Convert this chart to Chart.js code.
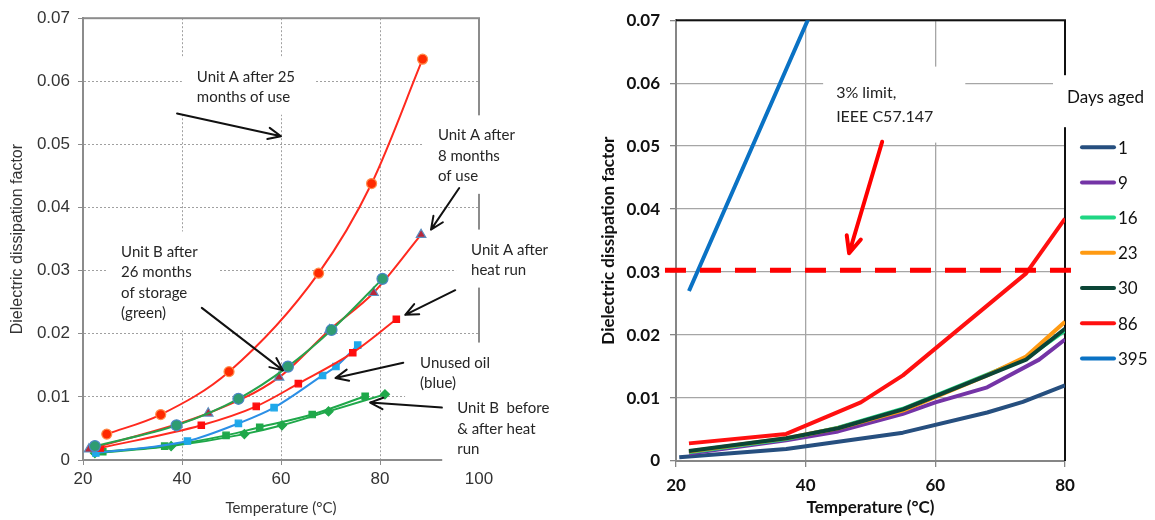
<!DOCTYPE html>
<html>
<head>
<meta charset="utf-8">
<title>Dielectric dissipation factor vs temperature</title>
<script src="https://cdn.jsdelivr.net/npm/chart.js@4.4.1/dist/chart.umd.min.js"></script>
<style>
    html, body { margin: 0; padding: 0; background: #fff; }
    #wrap { position: relative; width: 1155px; height: 520px; }
    .panel { position: absolute; top: 0; height: 520px; }
    #leftPanel { left: 0; width: 580px; }
    #rightPanel { left: 580px; width: 575px; }
</style>
</head>
<body>
<div id="wrap">
    <div class="panel" id="leftPanel"><canvas id="leftChart" width="580" height="520"></canvas></div>
    <div class="panel" id="rightPanel"><canvas id="rightChart" width="575" height="520"></canvas></div>
</div>
<script>
// ============================================================================
// LEFT PANEL DATA - field units
// ============================================================================

const leftTempTicks = [20, 40, 60, 80, 100];
const leftDfTicks = [0, 0.01, 0.02, 0.03, 0.04, 0.05, 0.06, 0.07];

const unitA25Temp = [24.8, 35.7, 49.5, 67.6, 78.3, 88.6];
const unitA25Df   = [0.0041, 0.0072, 0.0140, 0.0296, 0.0438, 0.0635];

const unitA8Temp = [21.2, 45.3, 59.6, 69.8, 78.7, 88.3];
const unitA8Df   = [0.0017, 0.0074, 0.0131, 0.0206, 0.0265, 0.0357];

const unitB26Temp = [22.4, 38.9, 51.4, 61.4, 70.2, 80.5];
const unitB26Df   = [0.0022, 0.0055, 0.0097, 0.0148, 0.0206, 0.0287];

const unitAHeatTemp = [23.5, 43.9, 55.0, 63.5, 74.5, 83.3];
const unitAHeatDf   = [0.0019, 0.0055, 0.0085, 0.0121, 0.0170, 0.0223];

const unusedTemp = [22.6, 41.1, 51.4, 58.6, 68.4, 71.1, 75.5];
const unusedDf   = [0.0011, 0.0030, 0.0058, 0.0083, 0.0134, 0.0148, 0.0182];

const unitBBeforeTemp = [24.0, 36.5, 48.9, 55.7, 66.3, 77.0];
const unitBBeforeDf   = [0.0013, 0.0022, 0.0039, 0.0052, 0.0072, 0.0101];

const unitBAfterTemp = [22.4, 37.8, 52.6, 60.2, 69.6, 81.0];
const unitBAfterDf   = [0.0011, 0.0022, 0.0041, 0.0055, 0.0077, 0.0104];

// ============================================================================
// RIGHT PANEL DATA - aged samples
// ============================================================================

const rightTempTicks = [20, 40, 60, 80];
const rightDfTicks = [0, 0.01, 0.02, 0.03, 0.04, 0.05, 0.06, 0.07];
const daysAged = ['1', '9', '16', '23', '30', '86', '395'];
const dayColors = ['#264f7f', '#7434a6', '#1fd683', '#ff9a12', '#0b4536', '#ff1010', '#0a72c4'];

const day1Temp = [20.5, 37, 55, 68, 73.5, 80];
const day1Df   = [0.0006, 0.0019, 0.0045, 0.0077, 0.0094, 0.0120];
const day9Temp = [22, 37, 45, 55, 60, 68, 76, 80];
const day9Df   = [0.0012, 0.0033, 0.0047, 0.0075, 0.0093, 0.0117, 0.0161, 0.0193];
const day16Temp = [22, 37, 45, 55, 68, 74, 80];
const day16Df   = [0.0014, 0.0035, 0.0053, 0.0083, 0.0137, 0.0163, 0.0207];
const day23Temp = [22, 37, 45, 55, 68, 74, 80];
const day23Df   = [0.0015, 0.0036, 0.0052, 0.0080, 0.0136, 0.0166, 0.0221];
const day30Temp = [22, 37, 45, 55, 68, 74, 80];
const day30Df   = [0.0016, 0.0036, 0.0052, 0.0082, 0.0136, 0.0161, 0.0210];
const day86Temp = [22, 37, 48.5, 55, 74, 80];
const day86Df   = [0.0028, 0.0043, 0.0093, 0.0136, 0.0298, 0.0385];
const day395Temp = [22, 37, 45];
const day395Df   = [0.0270, 0.0622, 0.0810];

const limitTemp = [18.3, 82.3];
const limitDf   = [0.0303, 0.0303];

// ============================================================================
// NOTES AND ARROWS (anchored in data units)
// ============================================================================

const leftNotes = [
    { lines: ['Unit A after 25', 'months of use'], x: 43.0, y: 0.0607 },
    { lines: ['Unit A after', '8 months', 'of use'], x: 91.7, y: 0.0514 },
    { lines: ['Unit A after', 'heat run'], x: 98.4, y: 0.0333 },
    { lines: ['Unit B after', '26 months', 'of storage', '(green)'], x: 27.7, y: 0.0330 },
    { lines: ['Unused oil', '(blue)'], x: 88.1, y: 0.0154 },
    { lines: ['Unit B  before', '& after heat', 'run'], x: 95.6, y: 0.0082 }
];
const leftArrows = [
    { from: [39.0, 0.0549], to: [60.0, 0.0513] },
    { from: [96.0, 0.0431], to: [90.3, 0.0365] },
    { from: [95.2, 0.0269], to: [85.1, 0.0230] },
    { from: [44.0, 0.0241], to: [60.4, 0.0142] },
    { from: [84.7, 0.0154], to: [71.0, 0.0130] },
    { from: [92.5, 0.0083], to: [78.0, 0.0091] }
];
const rightNotes = [
    { lines: ['3% limit,', 'IEEE C57.147'], x: 44.7, y: 0.0585 }
];
const rightArrows = [
    { from: [51.8, 0.0507], to: [46.7, 0.0330] }
];

// ============================================================================
// HELPERS
// ============================================================================

function toPoints(xs, ys) {
    return xs.map((x, i) => ({ x: x, y: ys[i] }));
}

function dfLabel(v) {
    return v === 0 ? '0' : v.toFixed(2);
}

function pixel(chart, x, y) {
    return [chart.scales.x.getPixelForValue(x), chart.scales.y.getPixelForValue(y)];
}

function noteBox(chart, note, font, lineHeight, pad) {
    const ctx = chart.ctx;
    ctx.font = font;
    const [px, py] = pixel(chart, note.x, note.y);
    const w = Math.max(...note.lines.map(t => ctx.measureText(t).width));
    return {
        x: px - pad.l,
        y: py - lineHeight / 2 - pad.t,
        w: w + pad.l + pad.r,
        h: note.lines.length * lineHeight + pad.t + pad.b
    };
}

function drawArrow(ctx, x1, y1, x2, y2, color, width, head) {
    const ang = Math.atan2(y2 - y1, x2 - x1);
    ctx.save();
    ctx.strokeStyle = color;
    ctx.lineWidth = width;
    ctx.lineCap = 'round';
    ctx.lineJoin = 'round';
    ctx.beginPath();
    ctx.moveTo(x1, y1);
    ctx.lineTo(x2, y2);
    ctx.moveTo(x2 - head * Math.cos(ang - 0.42), y2 - head * Math.sin(ang - 0.42));
    ctx.lineTo(x2, y2);
    ctx.lineTo(x2 - head * Math.cos(ang + 0.42), y2 - head * Math.sin(ang + 0.42));
    ctx.stroke();
    ctx.restore();
}

function drawNotes(chart, notes, font, lineHeight, color) {
    const ctx = chart.ctx;
    ctx.save();
    ctx.font = font;
    ctx.fillStyle = color;
    ctx.textAlign = 'left';
    ctx.textBaseline = 'middle';
    notes.forEach(n => {
        const [px, py] = pixel(chart, n.x, n.y);
        n.lines.forEach((t, i) => ctx.fillText(t, px, py + i * lineHeight));
    });
    ctx.restore();
}

// ============================================================================
// LEFT CHART
// ============================================================================

const LEFT_NOTE_FONT = '15px Lato';
const LEFT_NOTE_LH = 20.5;
const LEFT_NOTE_PAD = { l: 15, r: 21, t: 10, b: 7 };

const leftDecor = {
    id: 'leftDecor',
    beforeDatasetsDraw(chart) {
        const { ctx, chartArea: a } = chart;
        ctx.save();
        ctx.strokeStyle = '#8c8c8c';
        ctx.lineWidth = 2;
        ctx.strokeRect(a.left, a.top, a.right - a.left, a.bottom - a.top);
        ctx.fillStyle = '#fff';
        leftNotes.forEach(n => {
            const b = noteBox(chart, n, LEFT_NOTE_FONT, LEFT_NOTE_LH, LEFT_NOTE_PAD);
            ctx.fillRect(b.x, b.y, b.w, b.h);
        });
        ctx.restore();
    },
    afterDraw(chart) {
        drawNotes(chart, leftNotes, LEFT_NOTE_FONT, LEFT_NOTE_LH, '#262626');
        leftArrows.forEach(ar => {
            const [x1, y1] = pixel(chart, ar.from[0], ar.from[1]);
            const [x2, y2] = pixel(chart, ar.to[0], ar.to[1]);
            drawArrow(chart.ctx, x1, y1, x2, y2, '#111', 2, 14);
        });
    }
};

function leftSeries(label, xs, ys, color, style, fill, edge, radius) {
    return {
        label: label,
        data: toPoints(xs, ys),
        borderColor: color,
        borderWidth: 2,
        pointStyle: style,
        pointRadius: radius,
        pointBackgroundColor: fill,
        pointBorderColor: edge,
        pointBorderWidth: 1.2,
        cubicInterpolationMode: 'monotone',
        fill: false
    };
}

new Chart(document.getElementById('leftChart'), {
    type: 'line',
    data: {
        datasets: [
            leftSeries('Unit A after 25 months of use', unitA25Temp, unitA25Df, '#ff2a1f', 'circle', '#ff2a00', '#ff8c4a', 5),
            leftSeries('Unit B after 26 months of storage', unitB26Temp, unitB26Df, '#27a24c', 'circle', '#2f9c72', '#4b86c6', 5.5),
            leftSeries('Unit A after 8 months of use', unitA8Temp, unitA8Df, '#ff2a1f', 'triangle', '#b8283c', '#5b8fc0', 5.5),
            leftSeries('Unit A after heat run', unitAHeatTemp, unitAHeatDf, '#ff2a1f', 'rect', '#ff0d0d', '#ff0d0d', 4.5),
            leftSeries('Unused oil', unusedTemp, unusedDf, '#2b8fe6', 'rect', '#1ea8ea', '#1ea8ea', 4.5),
            leftSeries('Unit B before heat run', unitBBeforeTemp, unitBBeforeDf, '#1fa84a', 'rect', '#1fa84a', '#1fa84a', 4.5),
            leftSeries('Unit B after heat run', unitBAfterTemp, unitBAfterDf, '#1fa84a', 'rectRot', '#1fa84a', '#1fa84a', 4.5)
        ]
    },
    options: {
        responsive: false,
        animation: false,
        layout: { padding: { top: 15, right: 101, bottom: 0, left: 0 } },
        plugins: {
            legend: { display: false },
            tooltip: { enabled: false }
        },
        scales: {
            x: {
                type: 'linear',
                min: 20,
                max: 100,
                afterBuildTicks: s => { s.ticks = leftTempTicks.map(v => ({ value: v })); },
                afterFit: s => { s.height = 60; },
                grid: { color: '#a0a0a0', lineWidth: 1, tickLength: 5, tickColor: '#8c8c8c' },
                border: { color: '#8c8c8c', width: 2, dash: [2, 2] },
                ticks: { color: '#333', padding: 4, font: { family: 'Liberation Sans', size: 17 } },
                title: {
                    display: true,
                    text: 'Temperature (°C)',
                    color: '#333',
                    padding: { top: 0, bottom: 3 },
                    font: { family: 'Lato', size: 15 }
                }
            },
            y: {
                type: 'linear',
                min: 0,
                max: 0.07,
                afterBuildTicks: s => { s.ticks = leftDfTicks.map(v => ({ value: v })); },
                afterFit: s => { s.width = 83; },
                grid: { color: '#a0a0a0', lineWidth: 1, tickLength: 5, tickColor: '#8c8c8c' },
                border: { color: '#8c8c8c', width: 2, dash: [2, 2] },
                ticks: { color: '#333', padding: 8, callback: dfLabel, font: { family: 'Liberation Sans', size: 17 } },
                title: {
                    display: true,
                    text: 'Dielectric dissipation factor',
                    color: '#333',
                    padding: { top: 8, bottom: 0 },
                    font: { family: 'Liberation Sans', size: 16 }
                }
            }
        }
    },
    plugins: [leftDecor]
});

// ============================================================================
// RIGHT CHART
// ============================================================================

const RIGHT_NOTE_FONT = '16px Lato';
const RIGHT_NOTE_LH = 24;
const RIGHT_NOTE_PAD = { l: 13, r: 32, t: 14, b: 14 };
const LEGEND_FONT = '17px Lato';

const rightDecor = {
    id: 'rightDecor',
    beforeDatasetsDraw(chart) {
        const { ctx, chartArea: a } = chart;
        ctx.save();
        // top and right frame
        ctx.strokeStyle = '#111';
        ctx.lineWidth = 2;
        ctx.beginPath();
        ctx.moveTo(a.left, a.top);
        ctx.lineTo(a.right, a.top);
        ctx.lineTo(a.right, a.bottom);
        ctx.stroke();
        // white boxes: note and legend title
        ctx.fillStyle = '#fff';
        rightNotes.forEach(n => {
            const b = noteBox(chart, n, RIGHT_NOTE_FONT, RIGHT_NOTE_LH, RIGHT_NOTE_PAD);
            ctx.fillRect(b.x, b.y, b.w, b.h);
        });
        ctx.fillRect(a.right - 12, a.top + 55, chart.width - a.right + 12, 52);
        ctx.restore();
    },
    afterDraw(chart) {
        const { ctx, chartArea: a } = chart;
        drawNotes(chart, rightNotes, RIGHT_NOTE_FONT, RIGHT_NOTE_LH, '#222');
        rightArrows.forEach(ar => {
            const [x1, y1] = pixel(chart, ar.from[0], ar.from[1]);
            const [x2, y2] = pixel(chart, ar.to[0], ar.to[1]);
            drawArrow(ctx, x1, y1, x2, y2, '#ff0000', 4, 18);
        });

        // legend
        ctx.save();
        ctx.font = LEGEND_FONT;
        ctx.fillStyle = '#111';
        ctx.textBaseline = 'middle';
        ctx.textAlign = 'left';
        ctx.fillText('Days aged', a.right + 2, a.top + 77);
        daysAged.forEach((d, i) => {
            const y = a.top + 127 + i * 35.2;
            ctx.strokeStyle = dayColors[i];
            ctx.lineWidth = 4;
            ctx.lineCap = 'round';
            ctx.beginPath();
            ctx.moveTo(a.right + 17, y);
            ctx.lineTo(a.right + 49, y);
            ctx.stroke();
            ctx.fillText(d, a.right + 53, y + 1);
        });
        ctx.restore();
    }
};

const agedTemps = [day1Temp, day9Temp, day16Temp, day23Temp, day30Temp, day86Temp, day395Temp];
const agedDfs = [day1Df, day9Df, day16Df, day23Df, day30Df, day86Df, day395Df];

const rightDatasets = daysAged.map((d, i) => ({
    label: d,
    data: toPoints(agedTemps[i], agedDfs[i]),
    borderColor: dayColors[i],
    borderWidth: 4,
    pointRadius: 0,
    tension: 0,
    borderJoinStyle: 'round',
    order: daysAged.length - i + 1,
    fill: false
}));

rightDatasets.push({
    label: '3% limit',
    data: toPoints(limitTemp, limitDf),
    borderColor: '#ff0000',
    borderWidth: 5,
    borderDash: [21, 14],
    pointRadius: 0,
    clip: false,
    order: 0,
    fill: false
});

new Chart(document.getElementById('rightChart'), {
    type: 'line',
    data: { datasets: rightDatasets },
    options: {
        responsive: false,
        animation: false,
        layout: { padding: { top: 18, right: 90, bottom: 0, left: 0 } },
        plugins: {
            legend: { display: false },
            tooltip: { enabled: false }
        },
        scales: {
            x: {
                type: 'linear',
                min: 20,
                max: 80,
                afterBuildTicks: s => { s.ticks = rightTempTicks.map(v => ({ value: v })); },
                afterFit: s => { s.height = 59; },
                grid: { color: '#a6a6a6', lineWidth: 1.3, tickLength: 6, tickColor: '#868686' },
                border: { color: '#868686', width: 2 },
                ticks: { color: '#111', padding: 8, font: { family: 'Lato', size: 17, weight: 'bold' } },
                title: {
                    display: true,
                    text: 'Temperature (°C)',
                    color: '#111',
                    padding: { top: 0, bottom: 2 },
                    font: { family: 'Lato', size: 17, weight: 'bold' }
                }
            },
            y: {
                type: 'linear',
                min: 0,
                max: 0.07,
                afterBuildTicks: s => { s.ticks = rightDfTicks.map(v => ({ value: v })); },
                afterFit: s => { s.width = 96; },
                grid: { color: '#a6a6a6', lineWidth: 1.3, tickLength: 6, tickColor: '#868686' },
                border: { color: '#868686', width: 2 },
                ticks: { color: '#111', padding: 10, callback: dfLabel, font: { family: 'Lato', size: 17, weight: 'bold' } },
                title: {
                    display: true,
                    text: 'Dielectric dissipation factor',
                    color: '#111',
                    padding: { top: 18, bottom: 0 },
                    font: { family: 'Lato', size: 17, weight: 'bold' }
                }
            }
        }
    },
    plugins: [rightDecor]
});
</script>
</body>
</html>
